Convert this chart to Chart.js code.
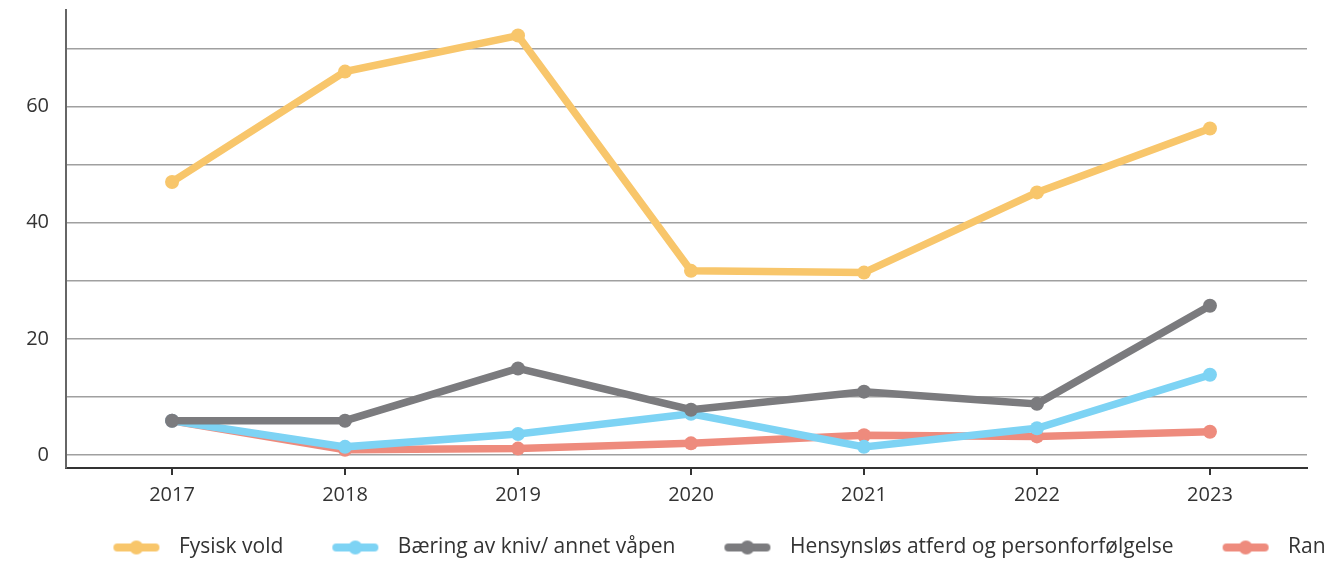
<!DOCTYPE html>
<html>
<head>
<meta charset="utf-8">
<script src="https://cdn.jsdelivr.net/npm/chart.js@4/dist/chart.umd.min.js"></script>
<style>
  html, body { margin: 0; padding: 0; background: #fff; }
  #wrap { width: 1329px; height: 562px; overflow: hidden; position: relative; }
  #box { width: 1416px; height: 580px; position: absolute; left: 0; top: 0; }
</style>
</head>
<body>
<div id="wrap"><div id="box"><canvas id="chart"></canvas></div></div>
<script>
const years = [2017, 2018, 2019, 2020, 2021, 2022, 2023];
const fysiskVold = [47, 66, 72.2, 31.7, 31.4, 45.2, 56.2];
const baeringKniv = [5.9, 1.4, 3.6, 7.1, 1.4, 4.6, 13.8];
const hensynslos = [5.9, 5.9, 14.9, 7.8, 10.9, 8.8, 25.7];
const ran = [5.9, 0.9, 1.1, 2.0, 3.4, 3.2, 4.0];
const yTicks = [0, 10, 20, 30, 40, 50, 60, 70];

const fontFamily = "'Open Sans', 'Noto Sans', sans-serif";

// legend icon: line with a dot, pushed to the right of a wider box
function legendIcon(color) {
    const c = document.createElement('canvas');
    c.width = 78; c.height = 16;
    const g = c.getContext('2d');
    g.strokeStyle = color;
    g.lineWidth = 8;
    g.lineCap = 'round';
    g.beginPath();
    g.moveTo(27, 8); g.lineTo(65, 8);
    g.stroke();
    g.fillStyle = color;
    g.beginPath();
    g.arc(46, 8, 7, 0, Math.PI * 2);
    g.fill();
    return c;
}

function series(label, values, color, order) {
    return {
        label,
        data: years.map((y, i) => ({ x: y, y: values[i] })),
        borderColor: color,
        backgroundColor: color,
        borderWidth: 7.5,
        pointRadius: 7,
        pointHoverRadius: 7,
        pointBorderWidth: 0,
        tension: 0,
        legendIcon: legendIcon(color),
        order
    };
}

const datasets = [
    series('Fysisk vold', fysiskVold, '#F8C66B', 0),
    series('Bæring av kniv/ annet våpen', baeringKniv, '#7DD3F4', 2),
    series('Hensynsløs atferd og personforfølgelse', hensynslos, '#7B7B7E', 1),
    series('Ran', ran, '#EE8B7D', 3)
];

new Chart(document.getElementById('chart'), {
    type: 'line',
    data: { datasets },
    options: {
        responsive: true,
        maintainAspectRatio: false,
        animation: false,
        layout: { padding: { left: 0, right: 0, top: 10, bottom: 12 } },
        plugins: {
            tooltip: { enabled: false },
            legend: {
                position: 'bottom',
                labels: {
                    usePointStyle: true,
                    pointStyleWidth: 78,
                    padding: 26,
                    color: '#333',
                    font: { family: fontFamily, size: 21 },
                    generateLabels(chart) {
                        return chart.data.datasets.map((d, i) => ({
                            text: d.label,
                            pointStyle: d.legendIcon,
                            fillStyle: d.borderColor,
                            strokeStyle: d.borderColor,
                            lineWidth: 0,
                            fontColor: '#333',
                            hidden: false,
                            datasetIndex: i
                        }));
                    }
                }
            }
        },
        scales: {
            x: {
                type: 'linear',
                min: 2016.387,
                max: 2023.561,
                afterBuildTicks: s => { s.ticks = years.map(v => ({ value: v })); },
                afterFit: s => { s.height = 43; },
                grid: { drawOnChartArea: false, drawTicks: true, tickLength: 7, color: '#333', lineWidth: 2 },
                border: { color: '#333', width: 2 },
                ticks: {
                    padding: 8,
                    color: '#333',
                    font: { family: fontFamily, size: 20 },
                    callback: v => String(v),
                    maxRotation: 0
                }
            },
            y: {
                min: -2.24,
                max: 76.6,
                afterBuildTicks: s => { s.ticks = yTicks.map(v => ({ value: v })); },
                afterFit: s => { s.width = 66; s.paddingTop = 0; s.paddingBottom = 0; },
                grid: { drawTicks: false, color: '#a0a0a0', lineWidth: 1.5 },
                border: { color: '#666', width: 2 },
                ticks: {
                    padding: 17,
                    color: '#333',
                    font: { family: fontFamily, size: 20 },
                    callback: v => (v % 20 === 0 ? String(v) : '')
                }
            },
            // empty right-hand axis, only reserves space so the plot stops at 1307px
            spacer: {
                position: 'right',
                min: 0,
                max: 1,
                afterBuildTicks: s => { s.ticks = []; },
                afterFit: s => { s.width = 109; s.paddingTop = 0; s.paddingBottom = 0; },
                grid: { display: false },
                border: { display: false },
                ticks: { display: false }
            }
        }
    }
});
</script>
</body>
</html>
